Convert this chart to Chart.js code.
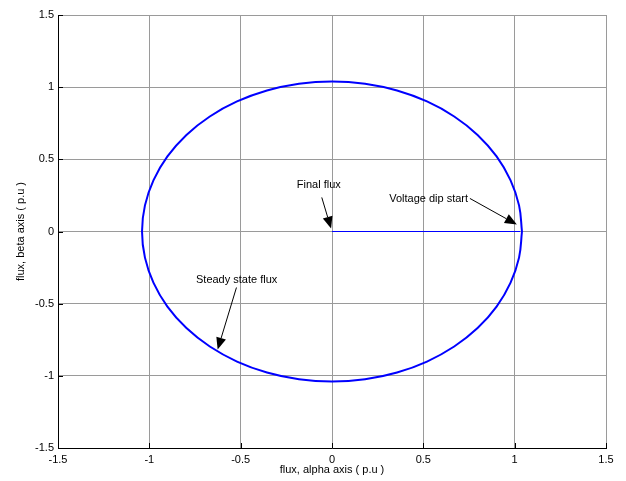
<!DOCTYPE html>
<html>
<head>
    <title>Flux trajectory</title>
    <script src="https://cdn.jsdelivr.net/npm/chart.js"></script>
    <style>
        body { margin: 0; background: #fff; }
    </style>
</head>
<body>
    <canvas id="fluxChart" width="626" height="481"></canvas>

    <script>
        // Flux locus (alpha / beta), every 10 degrees
        const circleX = [1.040, 1.024, 0.977, 0.901, 0.797, 0.669, 0.520, 0.356, 0.181, 0.000,
                         -0.181, -0.356, -0.520, -0.669, -0.797, -0.901, -0.977, -1.024, -1.040,
                         -1.024, -0.977, -0.901, -0.797, -0.669, -0.520, -0.356, -0.181, 0.000,
                         0.181, 0.356, 0.520, 0.669, 0.797, 0.901, 0.977, 1.024, 1.040];
        const circleY = [0.000, 0.181, 0.356, 0.520, 0.669, 0.797, 0.901, 0.977, 1.024, 1.040,
                         1.024, 0.977, 0.901, 0.797, 0.669, 0.520, 0.356, 0.181, 0.000,
                         -0.181, -0.356, -0.520, -0.669, -0.797, -0.901, -0.977, -1.024, -1.040,
                         -1.024, -0.977, -0.901, -0.797, -0.669, -0.520, -0.356, -0.181, 0.000];

        // Dip transient: flux collapses from dip start to origin
        const dipX = [0, 1.03];
        const dipY = [0, 0];

        const tickValues = [-1.5, -1, -0.5, 0, 0.5, 1, 1.5];
        const tickLabels = ['-1.5', '-1', '-0.5', '0', '0.5', '1', '1.5'];

        // Annotations in data units: label position, arrow tail, arrow tip
        const notes = [
            { text: 'Final flux', tx: -0.072, ty: 0.32, align: 'center', from: [-0.056, 0.236], to: [-0.005, 0.02] },
            { text: 'Voltage dip start', tx: 0.745, ty: 0.225, align: 'right', from: [0.755, 0.229], to: [1.012, 0.048] },
            { text: 'Steady state flux', tx: -0.522, ty: -0.335, align: 'center', from: [-0.523, -0.388], to: [-0.626, -0.818] }
        ];

        const font = { family: 'Arial, "Liberation Sans", Helvetica, sans-serif', size: 11 };

        function toPoints(xs, ys) {
            return xs.map((x, i) => ({ x: x, y: ys[i] }));
        }

        function tickLabel(value) {
            const i = tickValues.indexOf(Number(value.toFixed(2)));
            return i >= 0 ? tickLabels[i] : '';
        }

        // MATLAB style inner ticks + arrows with text
        const extras = {
            id: 'extras',
            afterDraw(chart) {
                const ctx = chart.ctx;
                const xs = chart.scales.x, ys = chart.scales.y;
                const area = chart.chartArea;
                ctx.save();
                ctx.strokeStyle = '#000';
                ctx.lineWidth = 1;
                ctx.beginPath();
                tickValues.forEach(v => {
                    const px = Math.round(xs.getPixelForValue(v)) + 0.5;
                    const py = Math.round(ys.getPixelForValue(v)) + 0.5;
                    ctx.moveTo(px, area.bottom);
                    ctx.lineTo(px, area.bottom - 5);
                    ctx.moveTo(area.left, py);
                    ctx.lineTo(area.left + 5, py);
                });
                ctx.stroke();

                ctx.font = '11px ' + font.family;
                ctx.fillStyle = '#000';
                ctx.textBaseline = 'middle';
                notes.forEach(n => {
                    ctx.textAlign = n.align;
                    ctx.fillText(n.text, xs.getPixelForValue(n.tx), ys.getPixelForValue(n.ty));

                    const x0 = xs.getPixelForValue(n.from[0]), y0 = ys.getPixelForValue(n.from[1]);
                    const x1 = xs.getPixelForValue(n.to[0]), y1 = ys.getPixelForValue(n.to[1]);
                    const ang = Math.atan2(y1 - y0, x1 - x0);
                    const headLen = 12, headW = 5;
                    const bx = x1 - headLen * Math.cos(ang), by = y1 - headLen * Math.sin(ang);
                    ctx.beginPath();
                    ctx.moveTo(x0, y0);
                    ctx.lineTo(bx, by);
                    ctx.stroke();
                    ctx.beginPath();
                    ctx.moveTo(x1, y1);
                    ctx.lineTo(bx + headW * Math.sin(ang), by - headW * Math.cos(ang));
                    ctx.lineTo(bx - headW * Math.sin(ang), by + headW * Math.cos(ang));
                    ctx.closePath();
                    ctx.fill();
                });
                ctx.restore();
            }
        };

        const ctx = document.getElementById('fluxChart').getContext('2d');
        new Chart(ctx, {
            type: 'scatter',
            data: {
                datasets: [{
                    data: toPoints(circleX, circleY),
                    showLine: true,
                    borderColor: 'rgb(0, 0, 255)',
                    borderWidth: 2,
                    pointRadius: 0,
                    tension: 0.4
                }, {
                    data: toPoints(dipX, dipY),
                    showLine: true,
                    borderColor: 'rgb(0, 0, 255)',
                    borderWidth: 1,
                    pointRadius: 0,
                    tension: 0
                }]
            },
            options: {
                responsive: false,
                animation: false,
                layout: { padding: { top: 15, right: 20, left: 0, bottom: 0 } },
                plugins: {
                    legend: { display: false },
                    tooltip: { enabled: false }
                },
                scales: {
                    x: {
                        type: 'linear',
                        min: -1.5,
                        max: 1.5,
                        ticks: { stepSize: 0.5, callback: tickLabel, maxRotation: 0, padding: 5, color: '#000', font: font },
                        grid: { color: '#9a9a9a', drawTicks: false },
                        border: { color: '#000' },
                        title: { display: true, text: 'flux, alpha axis ( p.u )', color: '#000', font: font, padding: { top: 0, bottom: 4 } },
                        afterFit: s => { s.height = 33; }
                    },
                    y: {
                        type: 'linear',
                        min: -1.5,
                        max: 1.5,
                        ticks: { stepSize: 0.5, callback: tickLabel, padding: 4, color: '#000', font: font },
                        grid: { color: '#9a9a9a', drawTicks: false },
                        border: { color: '#000' },
                        title: { display: true, text: 'flux, beta axis ( p.u )', color: '#000', font: font, padding: { top: 14, bottom: 0 } },
                        afterFit: s => { s.width = 58; }
                    }
                }
            },
            plugins: [extras]
        });
    </script>
</body>
</html>
